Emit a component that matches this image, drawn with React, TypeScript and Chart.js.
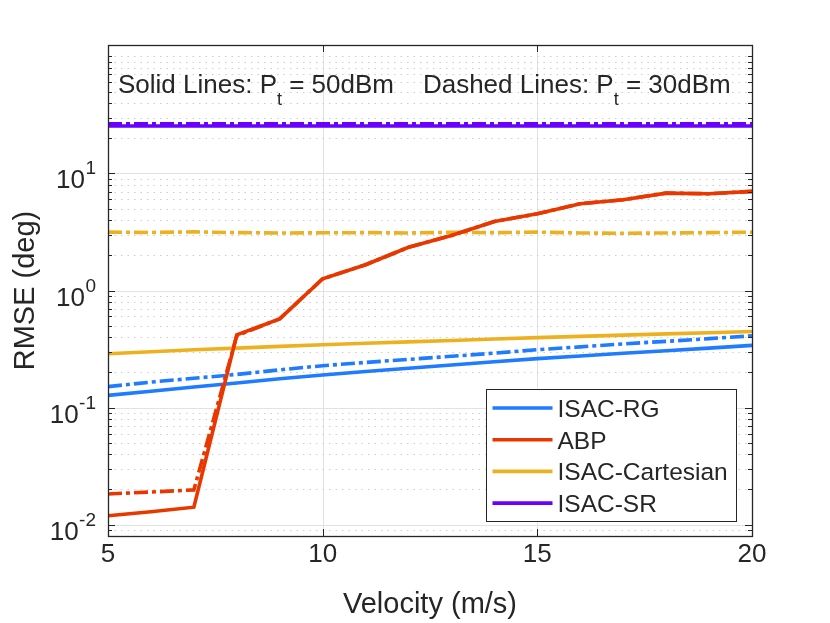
import React, { useEffect, useRef } from "react";
import { Chart, registerables } from "chart.js";

Chart.register(...registerables);

// ---------------- data ----------------
const velocity = [5, 6, 7, 8, 9, 10, 11, 12, 13, 14, 15, 16, 17, 18, 19, 20];

const rgSolid = [0.127, 0.138, 0.15, 0.162, 0.176, 0.19, 0.203, 0.217, 0.231, 0.246, 0.262, 0.276, 0.291, 0.306, 0.322, 0.34];
const rgDashed = [0.151, 0.165, 0.178, 0.192, 0.21, 0.228, 0.243, 0.258, 0.274, 0.292, 0.312, 0.33, 0.35, 0.368, 0.388, 0.41];
const abpSolid = [0.0119, 0.0129, 0.0141, 0.418, 0.573, 1.26, 1.66, 2.34, 2.95, 3.89, 4.52, 5.51, 5.96, 6.79, 6.7, 7.02];
const abpDashed = [0.0183, 0.019, 0.0198, 0.412, 0.573, 1.26, 1.66, 2.34, 2.95, 3.89, 4.52, 5.51, 5.96, 6.79, 6.7, 7.02];
const cartSolid = [0.288, 0.3, 0.312, 0.322, 0.333, 0.344, 0.354, 0.364, 0.374, 0.385, 0.396, 0.406, 0.416, 0.426, 0.436, 0.446];
const cartDashed = [3.15, 3.13, 3.17, 3.12, 3.1, 3.11, 3.12, 3.1, 3.14, 3.12, 3.15, 3.1, 3.08, 3.1, 3.12, 3.15];
const srSolid = [25.4, 25.4, 25.4, 25.4, 25.4, 25.4, 25.4, 25.4, 25.4, 25.4, 25.4, 25.4, 25.4, 25.4, 25.4, 25.4];
const srDashed = [26.6, 26.6, 26.6, 26.6, 26.6, 26.6, 26.6, 26.6, 26.6, 26.6, 26.6, 26.6, 26.6, 26.6, 26.6, 26.6];

const xTickValues = [5, 10, 15, 20];
const yLabelDecades = [-2, -1, 0, 1];
const legendLabels = ["ISAC-RG", "ABP", "ISAC-Cartesian", "ISAC-SR"];
const seriesColors = ["#1f7bff", "#e83800", "#edb120", "#6a00ff"];
const noteSegments = [
  { text: "Solid Lines: P", sub: false },
  { text: "t", sub: true },
  { text: " = 50dBm    Dashed Lines: P", sub: false },
  { text: "t", sub: true },
  { text: " = 30dBm", sub: false },
];

const X_MIN = 5;
const X_MAX = 20;
const Y_MIN = 0.008;
const Y_MAX = 125;

const FONT = '"Liberation Sans", Arial, Helvetica, sans-serif';
const INK = "#262626";
const DASH = [14, 4, 4, 4];

const pts = (ys: number[]) => velocity.map((v, i) => ({ x: v, y: ys[i] }));

const mk = (label: string, ys: number[], color: string, dashed: boolean) => ({
  label,
  data: pts(ys),
  borderColor: color,
  backgroundColor: color,
  borderWidth: 3.6,
  borderDash: dashed ? DASH : [],
  borderCapStyle: "butt" as const,
  pointRadius: 0,
  tension: 0,
  fill: false,
});

function line(ctx: CanvasRenderingContext2D, x1: number, y1: number, x2: number, y2: number) {
  ctx.beginPath();
  ctx.moveTo(x1, y1);
  ctx.lineTo(x2, y2);
  ctx.stroke();
}

const matlabAxes = {
  id: "matlabAxes",
  beforeDatasetsDraw(chart: any) {
    const { ctx, chartArea: a, scales } = chart;
    const x = scales.x;
    const y = scales.y;
    ctx.save();
    ctx.lineWidth = 1;
    ctx.strokeStyle = "#e2e2e2";
    for (const t of xTickValues) {
      if (t <= X_MIN || t >= X_MAX) continue;
      const px = Math.round(x.getPixelForValue(t)) + 0.5;
      line(ctx, px, a.top, px, a.bottom);
    }
    for (let d = -3; d <= 2; d++) {
      for (let m = 1; m <= 9; m++) {
        const v = m * Math.pow(10, d);
        if (v < Y_MIN || v > Y_MAX) continue;
        const py = Math.round(y.getPixelForValue(v)) + 0.5;
        if (m === 1 && yLabelDecades.includes(d)) {
          ctx.setLineDash([]);
          ctx.strokeStyle = "#e2e2e2";
        } else {
          ctx.setLineDash([1.5, 5]);
          ctx.strokeStyle = "#cdcdcd";
        }
        line(ctx, a.left, py, a.right, py);
      }
    }
    ctx.restore();
  },
  afterDatasetsDraw(chart: any) {
    const { ctx, chartArea: a, scales } = chart;
    const x = scales.x;
    const y = scales.y;
    ctx.save();
    ctx.setLineDash([]);
    ctx.strokeStyle = INK;
    ctx.lineWidth = 1;
    for (const t of xTickValues) {
      if (t <= X_MIN || t >= X_MAX) continue;
      const px = Math.round(x.getPixelForValue(t)) + 0.5;
      line(ctx, px, a.bottom, px, a.bottom - 7);
      line(ctx, px, a.top, px, a.top + 7);
    }
    for (let d = -3; d <= 2; d++) {
      for (let m = 1; m <= 9; m++) {
        const v = m * Math.pow(10, d);
        if (v < Y_MIN || v > Y_MAX) continue;
        const py = Math.round(y.getPixelForValue(v)) + 0.5;
        const len = m === 1 && yLabelDecades.includes(d) ? 7 : 4;
        line(ctx, a.left, py, a.left + len, py);
        line(ctx, a.right, py, a.right - len, py);
      }
    }
    ctx.lineWidth = 1.3;
    ctx.strokeRect(Math.round(a.left) + 0.5, Math.round(a.top) + 0.5, Math.round(a.right - a.left), Math.round(a.bottom - a.top));

    // y tick labels (10^n)
    ctx.fillStyle = INK;
    ctx.textAlign = "left";
    ctx.textBaseline = "alphabetic";
    const right = a.left - 12;
    for (const d of yLabelDecades) {
      const py = y.getPixelForValue(Math.pow(10, d));
      const exp = String(d);
      ctx.font = `19px ${FONT}`;
      const ew = ctx.measureText(exp).width;
      ctx.fillText(exp, right - ew, py + 1);
      ctx.font = `26px ${FONT}`;
      const bw = ctx.measureText("10").width;
      ctx.fillText("10", right - ew - bw - 0.5, py + 15);
    }

    // annotation
    let tx = a.left + 10;
    const ty = a.top + 48;
    for (const s of noteSegments) {
      ctx.font = s.sub ? `18px ${FONT}` : `26px ${FONT}`;
      ctx.fillText(s.text, tx, s.sub ? ty + 12 : ty);
      tx += ctx.measureText(s.text).width;
    }

    // legend
    const bw = 250;
    const bh = 132;
    const bx = Math.round(a.right - 16 - bw) + 0.5;
    const by = Math.round(a.bottom - 15 - bh) + 0.5;
    ctx.fillStyle = "#ffffff";
    ctx.fillRect(bx, by, bw, bh);
    ctx.strokeStyle = INK;
    ctx.lineWidth = 1;
    ctx.strokeRect(bx, by, bw, bh);
    ctx.font = `24.5px ${FONT}`;
    legendLabels.forEach((lab, i) => {
      const ry = by + 18.5 + i * 31.7;
      ctx.strokeStyle = seriesColors[i];
      ctx.lineWidth = 3.6;
      line(ctx, bx + 6, ry, bx + 66, ry);
      ctx.fillStyle = INK;
      ctx.fillText(lab, bx + 71, ry + 9);
    });
    ctx.restore();
  },
};

export default function App() {
  const ref = useRef<HTMLCanvasElement | null>(null);

  useEffect(() => {
    if (!ref.current) return;
    const chart = new Chart(ref.current, {
      type: "line",
      data: {
        datasets: [
          mk("ABP", abpSolid, seriesColors[1], false),
          mk("ABP (30dBm)", abpDashed, seriesColors[1], true),
          mk("ISAC-RG", rgSolid, seriesColors[0], false),
          mk("ISAC-RG (30dBm)", rgDashed, seriesColors[0], true),
          mk("ISAC-Cartesian", cartSolid, seriesColors[2], false),
          mk("ISAC-Cartesian (30dBm)", cartDashed, seriesColors[2], true),
          mk("ISAC-SR (30dBm)", srDashed, seriesColors[3], true),
          mk("ISAC-SR", srSolid, seriesColors[3], false),
        ],
      },
      options: {
        animation: false,
        responsive: false,
        devicePixelRatio: 1,
        layout: { padding: { top: 45, right: 78, left: 0, bottom: 0 } },
        plugins: { legend: { display: false }, tooltip: { enabled: false } },
        scales: {
          x: {
            type: "linear",
            min: X_MIN,
            max: X_MAX,
            afterBuildTicks: (s: any) => {
              s.ticks = xTickValues.map((v) => ({ value: v }));
            },
            ticks: { font: { family: FONT, size: 26 }, color: INK, padding: 3, maxRotation: 0, autoSkip: false },
            grid: { display: false, drawTicks: false },
            border: { display: false },
            title: { display: true, text: "Velocity (m/s)", font: { family: FONT, size: 29 }, color: INK, padding: { top: 0, bottom: 1 } },
            afterFit: (s: any) => {
              s.height = 87;
            },
          },
          y: {
            type: "logarithmic",
            min: Y_MIN,
            max: Y_MAX,
            ticks: { display: false },
            grid: { display: false, drawTicks: false },
            border: { display: false },
            title: { display: true, text: "RMSE (deg)", font: { family: FONT, size: 29 }, color: INK, padding: { top: 9, bottom: 0 } },
            afterFit: (s: any) => {
              s.width = 108;
            },
          },
        },
      },
      plugins: [matlabAxes],
    } as any);
    return () => chart.destroy();
  }, []);

  return (
    <div style={{ position: "fixed", left: 0, top: 0, width: 830, height: 623, background: "#fff" }}>
      <canvas ref={ref} width={830} height={623} style={{ display: "block" }} />
    </div>
  );
}
